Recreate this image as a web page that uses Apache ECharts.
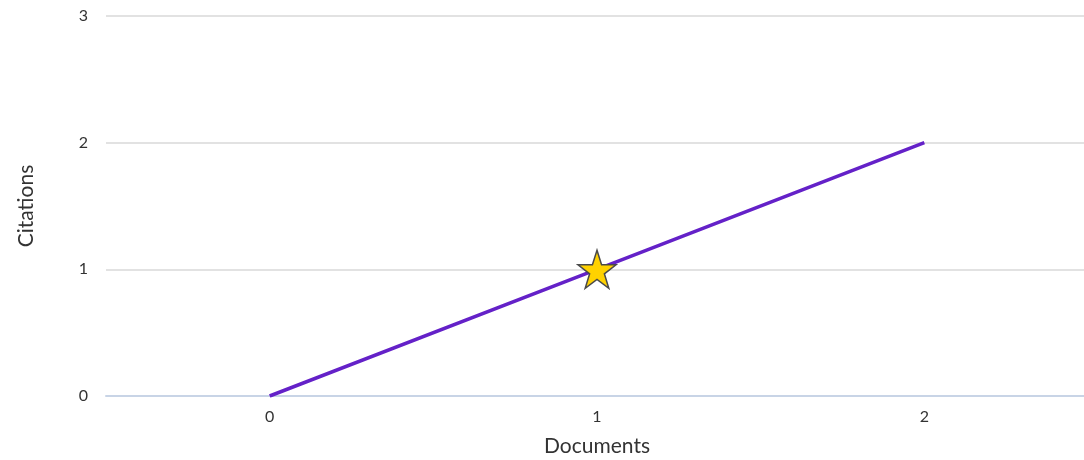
<!DOCTYPE html>
<html>
<head>
<meta charset="utf-8">
<script src="https://cdn.jsdelivr.net/npm/echarts@6/dist/echarts.min.js"></script>
<style>
  html, body { margin: 0; padding: 0; background: #fff; }
  #chart { width: 1084px; height: 460px; }
</style>
</head>
<body>
<div id="chart"></div>
<script>
const documents = ['0', '1', '2'];
const citations = [0, 1, 2];
const highlightIndex = 1;

const chart = echarts.init(document.getElementById('chart'));

chart.setOption({
  animation: false,
  backgroundColor: '#ffffff',
  textStyle: { fontFamily: 'Lato' },
  grid: { left: 106, right: -4, top: 16, bottom: 64, outerBoundsMode: 'none', containLabel: false },
  xAxis: {
    type: 'category',
    data: documents,
    name: 'Documents',
    nameLocation: 'middle',
    nameGap: 40,
    nameTextStyle: { color: '#333', fontSize: 21 },
    axisTick: { show: false },
    axisLine: { lineStyle: { color: '#c8d4e6', width: 2 } },
    axisLabel: { color: '#333', fontSize: 16, margin: 13 }
  },
  yAxis: {
    type: 'value',
    min: 0,
    max: 3,
    interval: 1,
    name: 'Citations',
    nameLocation: 'middle',
    nameGap: 69,
    nameTextStyle: { color: '#333', fontSize: 21 },
    axisLine: { show: false },
    axisTick: { show: false },
    axisLabel: { color: '#333', fontSize: 16, margin: 18 },
    splitLine: { lineStyle: { color: '#d9d9d9', width: 1.5 } }
  },
  series: [
    {
      type: 'line',
      data: citations.map((v, i) => ({
        value: v,
        symbol: i === highlightIndex ? 'path://M50,0 L61.8,35.4 L99,35.4 L69,57.3 L80.4,92.7 L50,70.8 L19.6,92.7 L31,57.3 L1,35.4 L38.2,35.4 Z' : 'none',
        symbolSize: 38,
        itemStyle: { color: '#ffd200', borderColor: '#4a4a4a', borderWidth: 1.5 }
      })),
      lineStyle: { color: '#6421c8', width: 3.5 },
      z: 3
    }
  ]
});
</script>
</body>
</html>
